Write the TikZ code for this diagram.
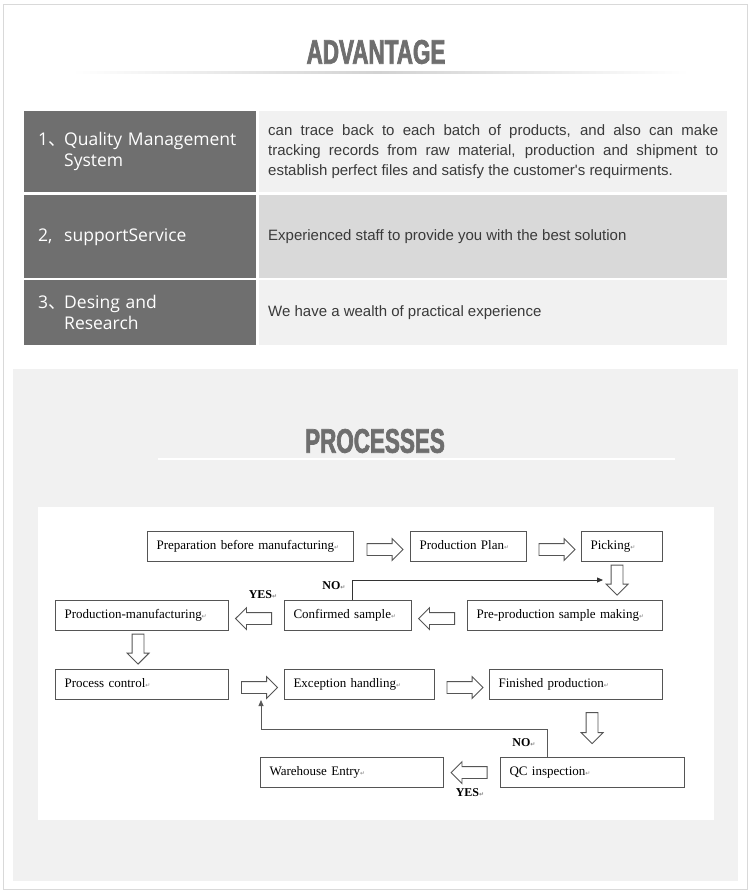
\documentclass[tikz,border=0pt]{standalone}
\usepackage{fontspec}
\setmainfont{Liberation Serif}
\newfontfamily\titlefont{Liberation Sans}[FakeStretch=0.66,BoldFeatures={FakeBold=2}]
\newfontfamily\cellfont{Open Sans}
\newfontfamily\bodyfont{Liberation Sans}
\newfontfamily\cjk{Noto Sans CJK SC}
\newfontfamily\symfont{DejaVu Sans}
\usetikzlibrary{shapes.arrows,arrows.meta,calc,positioning}

\definecolor{cellgray}{HTML}{6F6F6F}
\definecolor{rowlight}{HTML}{F1F1F1}
\definecolor{rowmid}{HTML}{D9D9D9}
\definecolor{panelgray}{HTML}{F1F1F1}
\definecolor{titlegray}{HTML}{6E6E6E}
\definecolor{boxline}{HTML}{555555}
\definecolor{textdark}{HTML}{3A3A3A}

\newcommand{\retmark}{{\symfont\fontsize{6}{6}\selectfont\color{gray}↵}}
\newcommand{\numlabel}[1]{\makebox[26pt][l]{#1}}

\tikzset{
  lcell/.style={fill=cellgray, text=white, font=\cellfont\fontsize{17.5}{21}\selectfont,
    text width=204pt, inner xsep=14pt, inner ysep=0pt, align=left, anchor=north west},
  rcell/.style={fill=#1, text=textdark, font=\bodyfont\fontsize{15}{20}\selectfont,
    text width=450pt, inner xsep=9pt, inner ysep=0pt, align=justify, anchor=north west},
  procbox/.style={draw=boxline, line width=1.1pt, fill=white, text width=#1,
    text height=9pt, text depth=3pt,
    minimum height=30pt, inner xsep=9pt, inner ysep=0pt, align=left,
    anchor=north west, font=\fontsize{13}{15}\selectfont},
  blockarrow/.style={single arrow, draw=boxline, line width=0.9pt, fill=white,
    minimum height=#1, single arrow head extend=5pt, inner sep=5.5pt},
  loopline/.style={draw=black!80, line width=0.8pt, -{Triangle[length=6pt,width=5pt]}},
  tag/.style={font=\bfseries\fontsize{12}{14}\selectfont, inner sep=1pt},
  headline/.style={font=\titlefont\bfseries\fontsize{34}{34}\selectfont, text=titlegray}
}

\begin{document}
\begin{tikzpicture}[x=1pt,y=-1pt]
  \useasboundingbox (0,0) rectangle (750,895);

  % card and panels
  \draw[draw=gray!30, fill=white, line width=1pt] (3,4) rectangle (747,889);
  \fill[panelgray] (13,369) rectangle (738,881);
  \fill[white] (38,507) rectangle (714,820);

  % ADVANTAGE
  \node[headline] (advtitle) at (376,52) {ADVANTAGE};
  \shade[left color=white, right color=white, middle color=gray!35] (72,71) rectangle (689,73);

  % the table
  \node[lcell, minimum height=81pt] (q1) at (24,111)
    {\numlabel{1{\cjk 、}}Quality Management\\\hspace*{26pt}System};
  \node[rcell=rowlight, minimum height=81pt] (a1) at (259,111)
    {can trace back to each batch of products, and also can make\linebreak
     tracking records from raw material, production and shipment to\linebreak
     establish perfect files and satisfy the customer's requirments.};
  \node[lcell, minimum height=83pt] (q2) at (24,195) {\numlabel{2,}supportService};
  \node[rcell=rowmid, minimum height=83pt] (a2) at (259,195)
    {Experienced staff to provide you with the best solution};
  \node[lcell, minimum height=65pt] (q3) at (24,280)
    {\numlabel{3{\cjk 、}}Desing and\\\hspace*{26pt}Research};
  \node[rcell=rowlight, minimum height=65pt] (a3) at (259,280)
    {We have a wealth of practical experience};

  % PROCESSES
  \node[headline] (proctitle) at (375,441) {PROCESSES};
  \draw[white, line width=2pt] (158,459) -- (675,459);

  % flow boxes
  \node[procbox=188pt] (prep) at (147,531) {Preparation before manufacturing\retmark};
  \node[procbox=98pt] (plan) at (410,531) {Production Plan\retmark};
  \node[procbox=63pt] (picking) at (581,531) {Picking\retmark};
  \node[procbox=155pt] (prodman) at (55,600) {Production-manufacturing\retmark};
  \node[procbox=109pt] (confirm) at (284,600) {Confirmed sample\retmark};
  \node[procbox=177pt] (preprod) at (467,600) {Pre-production sample making\retmark};
  \node[procbox=155pt] (procctl) at (55,669) {Process control\retmark};
  \node[procbox=132pt] (except) at (284,669) {Exception handling\retmark};
  \node[procbox=155pt] (finished) at (489,669) {Finished production\retmark};
  \node[procbox=165pt] (warehouse) at (260,757) {Warehouse Entry\retmark};
  \node[procbox=166pt] (qc) at (500,757) {QC inspection\retmark};

  % hollow arrows
  \node[blockarrow=36pt] (h1) at ($(prep.east)!0.5!(plan.west)+(0,3)$) {};
  \node[blockarrow=36pt] (h2) at ($(plan.east)!0.5!(picking.west)+(0,3)$) {};
  \node[blockarrow=30pt, rotate=-90] (h3) at ($(picking.south)+(-5,15)$) {};
  \node[blockarrow=36pt, rotate=180] (h4) at ($(preprod.west)!0.5!(confirm.east)+(0,3)$) {};
  \node[blockarrow=36pt, rotate=180] (h5) at ($(confirm.west)!0.5!(prodman.east)+(0,3)$) {};
  \node[blockarrow=30pt, rotate=-90] (h6) at ($(prodman.south)+(-4,15)$) {};
  \node[blockarrow=36pt] (h7) at ($(procctl.east)!0.5!(except.west)+(0,3)$) {};
  \node[blockarrow=36pt] (h8) at ($(except.east)!0.5!(finished.west)+(0,3)$) {};
  \node[blockarrow=31pt, rotate=-90] (h9) at ($(finished.south)+(16,25)$) {};
  \node[blockarrow=36pt, rotate=180] (h10) at ($(qc.west)!0.5!(warehouse.east)$) {};

  % loops back
  \coordinate (noend) at (603,580);
  \draw[loopline] ($(confirm.north west)+(68,0)$) |- (noend);
  \coordinate (fbend) at (261,700);
  \draw[loopline, draw=black!65] ($(qc.north west)+(47,0)$) -- ++(0,-28) -| (fbend);

  % yes / no
  \node[tag] (noA) at (334,586) {NO\retmark};
  \node[tag] (yesA) at (263,595) {YES\retmark};
  \node[tag] (noB) at (524,743) {NO\retmark};
  \node[tag] (yesB) at (470,793) {YES\retmark};

\end{tikzpicture}
\end{document}
